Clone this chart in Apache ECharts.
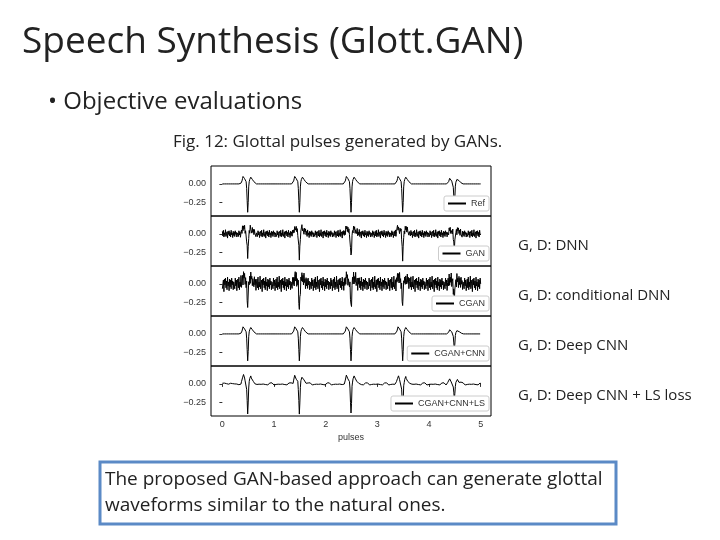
<!DOCTYPE html>
<html>
<head>
<meta charset="UTF-8">
<script src="https://cdn.jsdelivr.net/npm/echarts@6/dist/echarts.min.js"></script>
<style>body{margin:0;background:#fff}</style>
</head>
<body>
<div id="main" style="width:720px;height:540px;"></div>
<script>
// panel names, top to bottom
var names = ['Ref', 'GAN', 'CGAN', 'CGAN+CNN', 'CGAN+CNN+LS'];
var notes = ['', 'G, D: DNN', 'G, D: conditional DNN', 'G, D: Deep CNN', 'G, D: Deep CNN + LS loss'];
var xTicks = [0, 1, 2, 3, 4, 5];
var yTicks = [-0.25, 0];
// one glottal pulse, offsets 0.34..0.73 of a period (zero elsewhere)
var pulseShape = [0, 0.005, 0.01, 0.02, 0.04, 0.07, 0.1, 0.11, 0.1, 0.07, 0.05, 0.05, 0.03, -0.06, -0.22, -0.38, -0.25,
  -0.04, 0.03, 0.06, 0.08, 0.09, 0.085, 0.07, 0.06, 0.05, 0.04, 0.03, 0.02, 0.015, 0.01, 0.005, 0, 0, 0, 0, 0, 0, 0, 0];
// pulse depth per period, per panel
var pulseScale = [
  [1, 1, 1, 1, 0.75],
  [0.85, 0.85, 0.8, 0.85, 0.55],
  [0.9, 0.9, 0.85, 0.9, 0.6],
  [0.95, 0.95, 0.95, 0.95, 0.55],
  [1.05, 1.05, 1.05, 0.95, 0.55]
];
// hand-read noise texture
var noiseA = [0.03, -0.05, 0.06, -0.02, 0.04, -0.07, 0.01, 0.05, -0.04, 0.07, -0.06, 0.02, -0.03, 0.08, -0.05, 0.0,
  0.04, -0.08, 0.05, -0.01, 0.06, -0.04, 0.03, -0.06, 0.07, -0.02, 0.02, -0.07, 0.05, -0.03, 0.04, -0.05, 0.06,
  -0.01, 0.03, -0.06, 0.02];
var noiseAmp = [0, 0.7, 1.3, 0, 0.18];
var pulseStart = 34;
var font = 'Open Sans';

var option = {
  animation: false,
  grid: [], xAxis: [], yAxis: [], series: [], legend: [],
  graphic: [
    {type: 'text', left: 22, top: 24, style: {text: 'Speech Synthesis (Glott.GAN)', fontSize: 37, fill: '#222', fontFamily: font}},
    {type: 'text', left: 48, top: 90, style: {text: '\u2022 Objective evaluations', fontSize: 24, fill: '#222', fontFamily: font}},
    {type: 'text', left: 173, top: 134, style: {text: 'Fig. 12: Glottal pulses generated by GANs.', fontSize: 17, fill: '#222', fontFamily: font}},
    {type: 'rect', shape: {x: 100, y: 462, width: 516, height: 62}, style: {fill: '#fff', stroke: '#5b8ac6', lineWidth: 3}},
    {type: 'text', left: 105, top: 467, style: {text: 'The proposed GAN-based approach can generate glottal\nwaveforms similar to the natural ones.', fontSize: 19, lineHeight: 26, fill: '#222', fontFamily: font}}
  ]
};

for (var i = 0; i < 5; i++) {
  var panelTop = 166 + 50 * i;
  var data = [];
  for (var p = 0; p < 5; p++) {
    for (var k = 0; k < 100; k++) {
      var v = 0;
      if (k >= pulseStart && k < pulseStart + pulseShape.length) v = pulseShape[k - pulseStart] * pulseScale[i][p];
      v += noiseA[(p * 100 + k + i * 7) % noiseA.length] * noiseAmp[i];
      data.push([p + k / 100, v]);
    }
  }
  data.push([5, 0]);
  option.grid.push({left: 211, width: 280, top: panelTop, height: 50, show: true, borderColor: '#000', borderWidth: 1});
  option.xAxis.push({
    gridIndex: i, type: 'value', min: -0.22, max: 5.2,
    axisLine: {show: false}, splitLine: {show: false},
    axisTick: {show: i === 4, customValues: xTicks, length: 3, lineStyle: {color: '#333'}},
    axisLabel: {show: i === 4, customValues: xTicks, fontSize: 9, color: '#333', margin: 4},
    name: i === 4 ? 'pulses' : '', nameLocation: 'middle', nameGap: 17, nameTextStyle: {fontSize: 9, color: '#333'}
  });
  option.yAxis.push({
    gridIndex: i, type: 'value', min: -0.43, max: 0.24,
    axisLine: {show: false}, splitLine: {show: false},
    axisTick: {show: true, customValues: yTicks, length: 3, lineStyle: {color: '#333'}},
    axisLabel: {customValues: yTicks, fontSize: 9, color: '#333', margin: 5,
      formatter: function (v) { return v < 0 ? '\u22120.25' : '0.00'; }}
  });
  option.series.push({
    name: names[i], type: 'line', xAxisIndex: i, yAxisIndex: i, data: data,
    showSymbol: false, lineStyle: {color: '#000', width: 1}, itemStyle: {color: '#000'}
  });
  option.legend.push({
    data: [names[i]], right: 231, top: panelTop + 30, itemWidth: 18, itemHeight: 2, itemGap: 4,
    padding: [3, 4], borderColor: '#ccc', borderWidth: 1, borderRadius: 2, backgroundColor: '#fff',
    textStyle: {fontSize: 9, color: '#333'}, icon: 'rect'
  });
  if (notes[i]) {
    option.graphic.push({type: 'text', left: 518, top: panelTop + 22, style: {text: notes[i], fontSize: 15, fill: '#222', fontFamily: font}});
  }
}

var myChart = echarts.init(document.getElementById('main'));
myChart.setOption(option);
</script>
</body>
</html>
